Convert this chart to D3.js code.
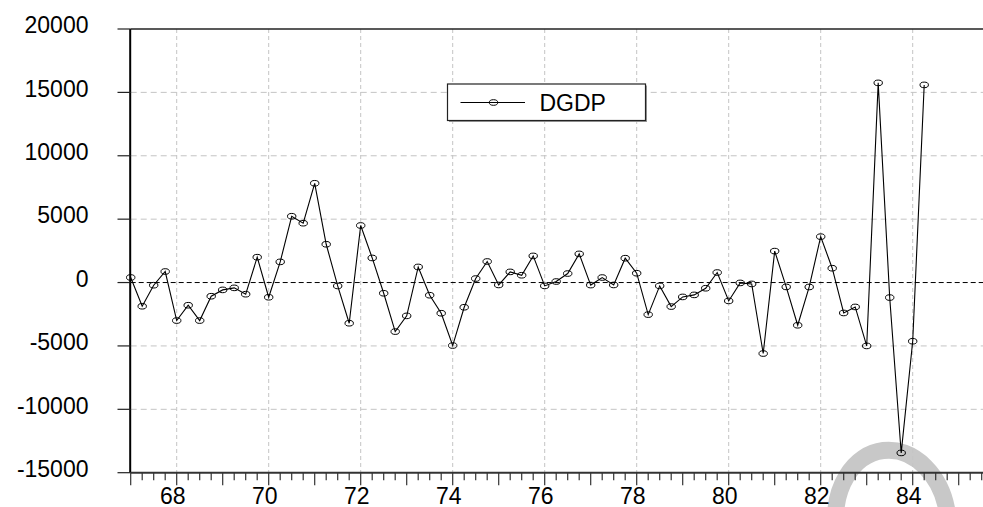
<!DOCTYPE html>
<html>
<head>
<meta charset="utf-8">
<script src="https://cdn.jsdelivr.net/npm/d3@7"></script>
<style>
	body{margin:0;background:#fff;}
	svg{display:block;font-family:"Liberation Sans",Arial,sans-serif;}
</style>
</head>
<body>
<svg id="chart" width="983" height="507"></svg>
<script>
// quarterly series, first point 1967Q1
const startYear = 1967;
const dgdp = [
	400,-1870,-210,870, -3000,-1790,-3000,-1080, -580,-420,-920,2000,
	-1160,1630,5230,4680, 7830,3020,-270,-3210, 4500,1940,-845,-3870,
	-2630,1230,-1000,-2420, -4970,-1950,315,1660, -190,840,575,2100,
	-265,80,710,2260, -200,395,-190,1920, 735,-2530,-265,-1895,
	-1135,-975,-450,790, -1450,-30,-110,-5600, 2480,-345,-3370,-350,
	3620,1130,-2400,-1925, -5000,15750,-1185,-13440, -4630,15590
];
const yTicks = [-15000,-10000,-5000,0,5000,10000,15000,20000];
const xLabelYears = [1968,1970,1972,1974,1976,1978,1980,1982,1984];
const seriesName = 'DGDP';

const data = dgdp.map((v,i)=>({t:startYear+i/4,value:v}));

const svg = d3.select('#chart');
const plotLeft = 130.7, plotTop = 29, plotBottom = 472.7;

const xScale = d3.scaleLinear()
	.domain([startYear,1986])
	.range([plotLeft,plotLeft+19*46]);
const yScale = d3.scaleLinear()
	.domain([-15000,20000])
	.range([plotBottom,plotTop]);

// watermark arc in the lower right corner
svg.append('ellipse')
	.attr('cx',892).attr('cy',522)
	.attr('rx',56).attr('ry',72)
	.attr('transform','rotate(-7,892,522)')
	.attr('fill','none')
	.attr('stroke','#c8c8c8')
	.attr('stroke-width',17);

// grid
const grid = svg.append('g');
grid.selectAll('line.vgrid')
	.data(xLabelYears)
	.join('line')
		.classed('vgrid',true)
		.attr('x1',d=>xScale(d)).attr('x2',d=>xScale(d))
		.attr('y1',plotTop).attr('y2',plotBottom)
		.attr('stroke','#c4c4c4')
		.attr('stroke-dasharray','4,3');
grid.selectAll('line.hgrid')
	.data(yTicks.filter(d=>d!==0 && d!==20000 && d!==-15000))
	.join('line')
		.classed('hgrid',true)
		.attr('x1',plotLeft).attr('x2',983)
		.attr('y1',d=>yScale(d)).attr('y2',d=>yScale(d))
		.attr('stroke','#c4c4c4')
		.attr('stroke-dasharray','6,4');
grid.append('line')
	.attr('x1',plotLeft).attr('x2',983)
	.attr('y1',yScale(0)).attr('y2',yScale(0))
	.attr('stroke','#000')
	.attr('stroke-width',1)
	.attr('stroke-dasharray','5,3');

// frame
svg.append('line')
	.attr('x1',plotLeft).attr('x2',983)
	.attr('y1',plotTop).attr('y2',plotTop)
	.attr('stroke','#222').attr('stroke-width',1.5);

// y axis
const yAxis = svg.append('g');
yAxis.append('line')
	.attr('x1',plotLeft-0.5).attr('x2',plotLeft-0.5)
	.attr('y1',plotTop).attr('y2',plotBottom)
	.attr('stroke','#000').attr('stroke-width',2);
yAxis.selectAll('line.ytick')
	.data(yTicks)
	.join('line')
		.classed('ytick',true)
		.attr('x1',117.5).attr('x2',plotLeft)
		.attr('y1',d=>yScale(d)).attr('y2',d=>yScale(d))
		.attr('stroke','#222').attr('stroke-width',1.2);
yAxis.selectAll('text')
	.data(yTicks)
	.join('text')
		.attr('x',88.5)
		.attr('y',d=>yScale(d)+4.3)
		.attr('text-anchor','end')
		.attr('font-size',23)
		.attr('fill','#000')
		.text(d=>d);

// x axis
const xAxis = svg.append('g');
xAxis.append('line')
	.attr('x1',plotLeft).attr('x2',983)
	.attr('y1',plotBottom).attr('y2',plotBottom)
	.attr('stroke','#333').attr('stroke-width',2);
const quarterTicks = d3.range(startYear*4,1986*4+1).map(q=>q/4);
xAxis.selectAll('line.xtick')
	.data(quarterTicks)
	.join('line')
		.classed('xtick',true)
		.attr('x1',d=>xScale(d)).attr('x2',d=>xScale(d))
		.attr('y1',plotBottom)
		.attr('y2',d=>Number.isInteger(d) ? plotBottom+12.5 : plotBottom+7.5)
		.attr('stroke','#333').attr('stroke-width',1.2);
xAxis.selectAll('text')
	.data(xLabelYears)
	.join('text')
		.attr('x',d=>xScale(d)-4)
		.attr('y',503.5)
		.attr('text-anchor','middle')
		.attr('font-size',23)
		.attr('fill','#000')
		.text(d=>String(d).slice(2));

// series
const line = d3.line()
	.x(d=>xScale(d.t))
	.y(d=>yScale(d.value));
svg.append('path')
	.datum(data)
	.attr('d',line)
	.attr('fill','none')
	.attr('stroke','#000')
	.attr('stroke-width',1.1);
svg.append('g').selectAll('ellipse')
	.data(data)
	.join('ellipse')
		.attr('cx',d=>xScale(d.t))
		.attr('cy',d=>yScale(d.value))
		.attr('rx',4.2).attr('ry',2.8)
		.attr('fill','none')
		.attr('stroke','#000')
		.attr('stroke-width',1);

// legend
const legend = svg.append('g').attr('transform','translate(447.5,84)');
legend.append('rect')
	.attr('x',1.5).attr('y',1.5)
	.attr('width',198).attr('height',36.5)
	.attr('fill','#9a9a9a');
legend.append('rect')
	.attr('width',198).attr('height',36.5)
	.attr('fill','#fff')
	.attr('stroke','#222').attr('stroke-width',1.2);
legend.append('line')
	.attr('x1',13).attr('x2',77.5)
	.attr('y1',18.5).attr('y2',18.5)
	.attr('stroke','#000').attr('stroke-width',1.1);
legend.append('ellipse')
	.attr('cx',46).attr('cy',18.5)
	.attr('rx',4.2).attr('ry',2.8)
	.attr('fill','none').attr('stroke','#000');
legend.append('text')
	.attr('x',92)
	.attr('y',26.8)
	.attr('font-size',23)
	.attr('fill','#000')
	.text(seriesName);
</script>
</body>
</html>
